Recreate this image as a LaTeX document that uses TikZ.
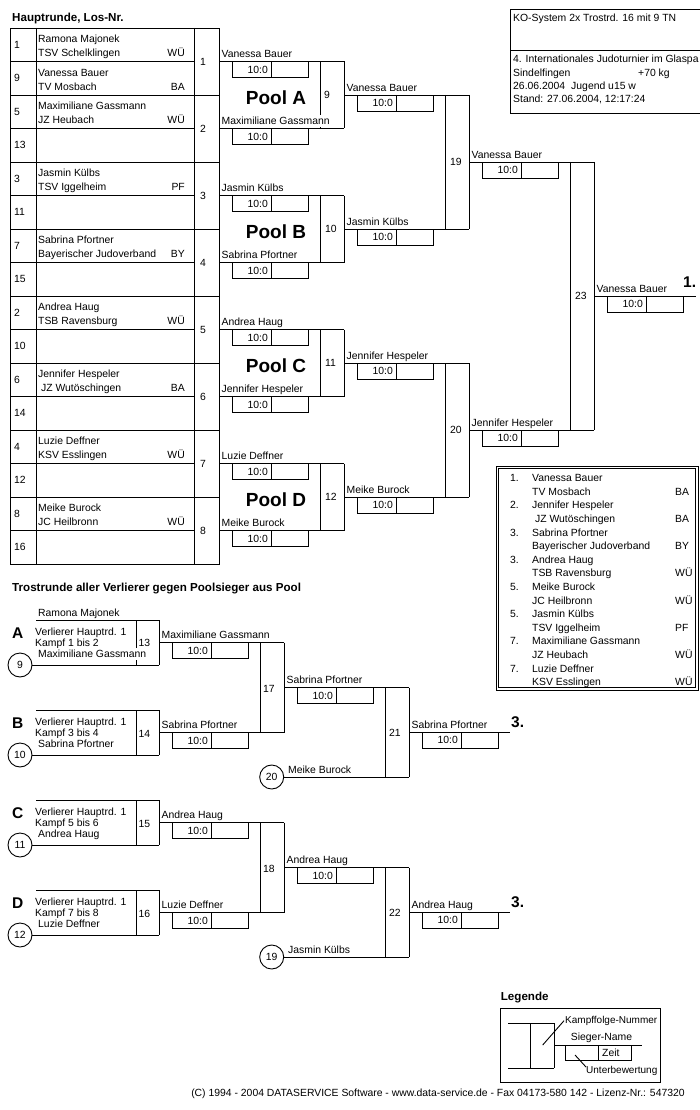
\documentclass[tikz,border=0pt]{standalone}
\usepackage{fontspec}
\setmainfont{Liberation Sans}
\newcommand{\fs}{\fontsize{10.4}{12}\selectfont}
\newcommand{\fsl}{\fontsize{10}{12}\selectfont}
\newcommand{\fh}{\fontsize{11.6}{13}\selectfont\bfseries}
\newcommand{\fp}{\fontsize{19}{21}\selectfont\bfseries}
\newcommand{\fr}{\fontsize{15.5}{18}\selectfont\bfseries}
\tikzset{
  ln/.style={line width=0.9pt},
  txt/.style={font=\fs, inner sep=0pt, anchor=base west},
  lab/.style={font=\fs, inner sep=0pt, fill=white, text height=9.5pt, text depth=2.7pt, anchor=south west},
  wtxt/.style={font=\fs, inner sep=0pt, fill=white, text height=9.5pt, text depth=2.7pt, anchor=base west},
  num/.style={font=\fs, inner sep=0pt, anchor=base west},
  circ/.style={circle, draw, ln, minimum size=24pt, inner sep=0pt, font=\fs},
}
% winner line with label: name, xs, xe, y, label
\newcommand{\wl}[5]{%
  \draw[ln] ({#2},{#4}) coordinate (#1s) -- ({#3},{#4}) coordinate (#1e);
  \node[lab] (#1) at ({#2+2.5},{#4-0.8}) {#5};}
% score box: name, xs, y
\newcommand{\sbx}[3]{%
  \draw[ln] ({#2+13},{#3}) rectangle ({#2+89},{#3+16});
  \draw[ln] ({#2+52},{#3}) -- ({#2+52},{#3+16});
  \node[txt, anchor=base east] (#1) at ({#2+49},{#3+11.7}) {10:0};}
% match verticals: xl, xr, yt, yb
\newcommand{\vbx}[4]{%
  \draw[ln] ({#1},{#3}) -- ({#1},{#4});
  \draw[ln] ({#2},{#3}) -- ({#2},{#4});}
\begin{document}
\begin{tikzpicture}[x=1pt, y=-1pt]
\fill[white] (0,0) rectangle (700,1110);
\useasboundingbox (0,0) rectangle (700,1110);

% ---------- heading ----------
\node[font=\fh, inner sep=0pt, anchor=base west] (h1) at (12,21.5) {Hauptrunde, Los-Nr.};

% ---------- main table ----------
\draw[ln] (10,28) rectangle (219,564);
\draw[ln] (36,28) -- (36,564);
\draw[ln] (194,28) -- (194,564);
\foreach \i in {1,3,...,15} \draw[ln] (10,{28+33.5*\i}) -- (194,{28+33.5*\i});
\foreach \i in {2,4,...,14} \draw[ln] (10,{28+33.5*\i}) -- (219,{28+33.5*\i});
\foreach \n/\a/\b/\c [count=\i from 0] in {1/Ramona Majonek/TSV Schelklingen/WÜ, 9/Vanessa Bauer/TV Mosbach/BA, 5/Maximiliane Gassmann/JZ Heubach/WÜ, 13/{}/{}/{}, 3/Jasmin Külbs/TSV Iggelheim/PF, 11/{}/{}/{}, 7/Sabrina Pfortner/Bayerischer Judoverband/BY, 15/{}/{}/{}, 2/Andrea Haug/TSB Ravensburg/WÜ, 10/{}/{}/{}, 6/Jennifer Hespeler/\ JZ Wutöschingen/BA, 14/{}/{}/{}, 4/Luzie Deffner/KSV Esslingen/WÜ, 12/{}/{}/{}, 8/Meike Burock/JC Heilbronn/WÜ, 16/{}/{}/{}}
{
  \node[txt] (tn\i) at (14,{28+33.5*\i+20.45}) {\n};
  \node[txt] (ta\i) at (38,{28+33.5*\i+14.7}) {\a};
  \node[txt] (tb\i) at (38,{28+33.5*\i+28.7}) {\b};
  \node[txt, anchor=base east] (tc\i) at (185,{28+33.5*\i+28.7}) {\c};
}
\foreach \k in {1,...,8}
  \node[font=\fs, inner sep=0pt, anchor=base] (mn\k) at (203,{61.5+67*(\k-1)+3.7}) {\k};

% ---------- main bracket: boxes ----------
\vbx{320}{344}{61.5}{128.5}
\vbx{320}{344}{195.5}{262.5}
\vbx{320}{344}{329.5}{396.5}
\vbx{320}{344}{463.5}{530.5}
\vbx{445}{469}{95}{229}
\vbx{445}{469}{363}{497}
\vbx{570.5}{594}{162}{430}
\node[num] (m9) at (324,98.7) {9};
\node[num] (m10) at (325,232.7) {10};
\node[num] (m11) at (325,366.7) {11};
\node[num] (m12) at (325,500.7) {12};
\node[num] (m19) at (450,165.7) {19};
\node[num] (m20) at (450,433.7) {20};
\node[num] (m23) at (575,299.7) {23};

% ---------- main bracket: lines ----------
\wl{w1}{219}{344}{61.5}{Vanessa Bauer}\sbx{s1}{219}{61.5}
\wl{w2}{219}{344}{128.5}{Maximiliane Gassmann}\sbx{s2}{219}{128.5}
\wl{w3}{219}{344}{195.5}{Jasmin Külbs}\sbx{s3}{219}{195.5}
\wl{w4}{219}{344}{262.5}{Sabrina Pfortner}\sbx{s4}{219}{262.5}
\wl{w5}{219}{344}{329.5}{Andrea Haug}\sbx{s5}{219}{329.5}
\wl{w6}{219}{344}{396.5}{Jennifer Hespeler}\sbx{s6}{219}{396.5}
\wl{w7}{219}{344}{463.5}{Luzie Deffner}\sbx{s7}{219}{463.5}
\wl{w8}{219}{344}{530.5}{Meike Burock}\sbx{s8}{219}{530.5}
\wl{w9}{344}{469}{95}{Vanessa Bauer}\sbx{s9}{344}{95}
\wl{w10}{344}{469}{229}{Jasmin Külbs}\sbx{s10}{344}{229}
\wl{w11}{344}{469}{363}{Jennifer Hespeler}\sbx{s11}{344}{363}
\wl{w12}{344}{469}{497}{Meike Burock}\sbx{s12}{344}{497}
\wl{w19}{469}{594}{162}{Vanessa Bauer}\sbx{s19}{469}{162}
\wl{w20}{469}{594}{430}{Jennifer Hespeler}\sbx{s20}{469}{430}
\wl{w23}{594}{696}{296}{Vanessa Bauer}\sbx{s23}{594}{296}
\node[font=\fr, inner sep=0pt, anchor=base west] (first) at (683,287.5) {1.};

\node[font=\fp, inner sep=0pt] (pA) at (276,98) {Pool A};
\node[font=\fp, inner sep=0pt] (pB) at (276,232) {Pool B};
\node[font=\fp, inner sep=0pt] (pC) at (276,366) {Pool C};
\node[font=\fp, inner sep=0pt] (pD) at (276,500) {Pool D};

% ---------- info box ----------
\draw[ln] (510,9) rectangle (712,113);
\draw[ln] (510,50) -- (712,50);
\node[txt] (i1) at (513,21.2) {KO-System 2x Trostrd. 16 mit 9 TN};
\node[txt] (i2) at (513,62.7) {4. Internationales Judoturnier im Glaspa};
\node[txt] (i3) at (513,76.2) {Sindelfingen};
\node[txt] (i4) at (638,76.2) {+70 kg};
\node[txt] (i5) at (513,89.7) {26.06.2004\hspace{6pt}Jugend u15 w};
\node[txt] (i7) at (513,102.7) {Stand: 27.06.2004, 12:17:24};

% ---------- ranking box ----------
\draw[ln] (496,466) rectangle (698,690);
\draw[ln] (498.5,468.5) rectangle (695.5,687.5);
\foreach \r/\a/\b/\c [count=\i from 0] in {1./Vanessa Bauer/TV Mosbach/BA, 2./Jennifer Hespeler/\ JZ Wutöschingen/BA, 3./Sabrina Pfortner/Bayerischer Judoverband/BY, 3./Andrea Haug/TSB Ravensburg/WÜ, 5./Meike Burock/JC Heilbronn/WÜ, 5./Jasmin Külbs/TSV Iggelheim/PF, 7./Maximiliane Gassmann/JZ Heubach/WÜ, 7./Luzie Deffner/KSV Esslingen/WÜ}
{
  \node[txt] (rr\i) at (510,{478+27.2*\i+3.7}) {\r};
  \node[txt] (ra\i) at (532,{478+27.2*\i+3.7}) {\a};
  \node[txt] (rb\i) at (532,{491.6+27.2*\i+3.7}) {\b};
  \node[txt] (rc\i) at (675,{491.6+27.2*\i+3.7}) {\c};
}

% ---------- Trostrunde ----------
\node[font=\fh, inner sep=0pt, anchor=base west] (h2) at (12,591.6) {Trostrunde aller Verlierer gegen Poolsieger aus Pool};

\node[circ] (c9) at (20,665) {9};
\node[circ] (c10) at (20,755) {10};
\node[circ] (c11) at (20,845) {11};
\node[circ] (c12) at (20,935) {12};
\node[circ] (c20) at (271.7,777) {20};
\node[circ] (c19) at (271.7,957) {19};

% boxes A-D
\vbx{136}{159}{620}{665}
\vbx{136}{159}{710}{755}
\vbx{136}{159}{800}{845}
\vbx{136}{159}{890}{935}
\draw[ln] (36,620) coordinate (At) -- (159,620);
\draw[ln] (c9.east) -- (159,665);
\draw[ln] (36,710) coordinate (Bt) -- (159,710);
\draw[ln] (c10.east) -- (159,755);
\draw[ln] (36,800) coordinate (Ct) -- (159,800);
\draw[ln] (c11.east) -- (159,845);
\draw[ln] (36,890) coordinate (Dt) -- (159,890);
\draw[ln] (c12.east) -- (159,935);
\node[lab] (rm) at (38,619.2) {Ramona Majonek};

\foreach \L/\y/\k/\w [count=\i] in {A/620/1 bis 2/Maximiliane Gassmann, B/710/3 bis 4/Sabrina Pfortner, C/800/5 bis 6/Andrea Haug, D/890/7 bis 8/Luzie Deffner}
{
  \node[font=\fr, inner sep=0pt, anchor=base west] (L\i) at (12,{\y+18.2}) {\L};
  \node[txt] (va\i) at (35,{\y+15}) {Verlierer Hauptrd. 1};
  \node[txt] (vb\i) at (35,{\y+26.5}) {Kampf \k};
  \node[wtxt] (vc\i) at (38,{\y+37.7}) {\w};
}
\node[num] (m13) at (138.5,646.2) {13};
\node[num] (m14) at (138.5,737.2) {14};
\node[num] (m15) at (138.5,827.2) {15};
\node[num] (m16) at (138.5,917.2) {16};

% later rounds
\vbx{260.7}{284}{642.5}{732.5}
\vbx{385.7}{409}{687.5}{777}
\vbx{260.7}{284}{822.5}{912.5}
\vbx{385.7}{409}{867.5}{957}
\node[num] (m17) at (263,692.2) {17};
\node[num] (m21) at (389,736.2) {21};
\node[num] (m18) at (263,872.2) {18};
\node[num] (m22) at (389,916.2) {22};

\wl{t13}{159}{284}{642.5}{Maximiliane Gassmann}\sbx{u13}{159}{642.5}
\wl{t14}{159}{284}{732.5}{Sabrina Pfortner}\sbx{u14}{159}{732.5}
\wl{t17}{284}{409}{687.5}{Sabrina Pfortner}\sbx{u17}{284}{687.5}
\draw[ln] (c20.east) -- (409,777) coordinate (mbe);
\node[lab] (mb) at (288,776.2) {Meike Burock};
\wl{t21}{409}{510}{732.25}{Sabrina Pfortner}\sbx{u21}{409}{732.25}
\node[font=\fr, inner sep=0pt, anchor=base west] (third1) at (511,727.5) {3.};

\wl{t15}{159}{284}{822.5}{Andrea Haug}\sbx{u15}{159}{822.5}
\wl{t16}{159}{284}{912.5}{Luzie Deffner}\sbx{u16}{159}{912.5}
\wl{t18}{284}{409}{867.5}{Andrea Haug}\sbx{u18}{284}{867.5}
\draw[ln] (c19.east) -- (409,957) coordinate (jke);
\node[lab] (jk) at (288,956.2) {Jasmin Külbs};
\wl{t22}{409}{510}{912.25}{Andrea Haug}\sbx{u22}{409}{912.25}
\node[font=\fr, inner sep=0pt, anchor=base west] (third2) at (511,907.5) {3.};

% ---------- legend ----------
\node[font=\fh, inner sep=0pt, anchor=base west] (leg) at (500.7,1000) {Legende};
\draw[ln] (500.7,1008) rectangle (660,1082);
\draw[ln] (508,1023) -- (554,1023);
\draw[ln] (508,1068) -- (554,1068);
\vbx{530}{554}{1023}{1068}
\draw[ln] (554,1045) -- (641.7,1045);
\draw[ln] (565.7,1045) rectangle (631.7,1060);
\draw[ln] (598.3,1045) -- (598.3,1060);
\node[txt] (lz) at (602,1056) {Zeit};
\node[txt] (ls) at (570.7,1040) {Sieger-Name};
\node[txt, font=\fsl] (lk) at (565,1023.7) {Kampffolge-Nummer};
\node[txt, font=\fsl] (lu) at (586,1073.7) {Unterbewertung};
\draw[ln] (542.7,1045) -- (564,1020.7);
\draw[ln] (575,1055) -- (586,1067);

% ---------- footer ----------
\node[font=\fs, inner sep=0pt, anchor=base] (foot) at (438,1096) {(C) 1994 - 2004 DATASERVICE Software - www.data-service.de - Fax 04173-580 142 - Lizenz-Nr.: 547320};
\end{tikzpicture}
\end{document}
